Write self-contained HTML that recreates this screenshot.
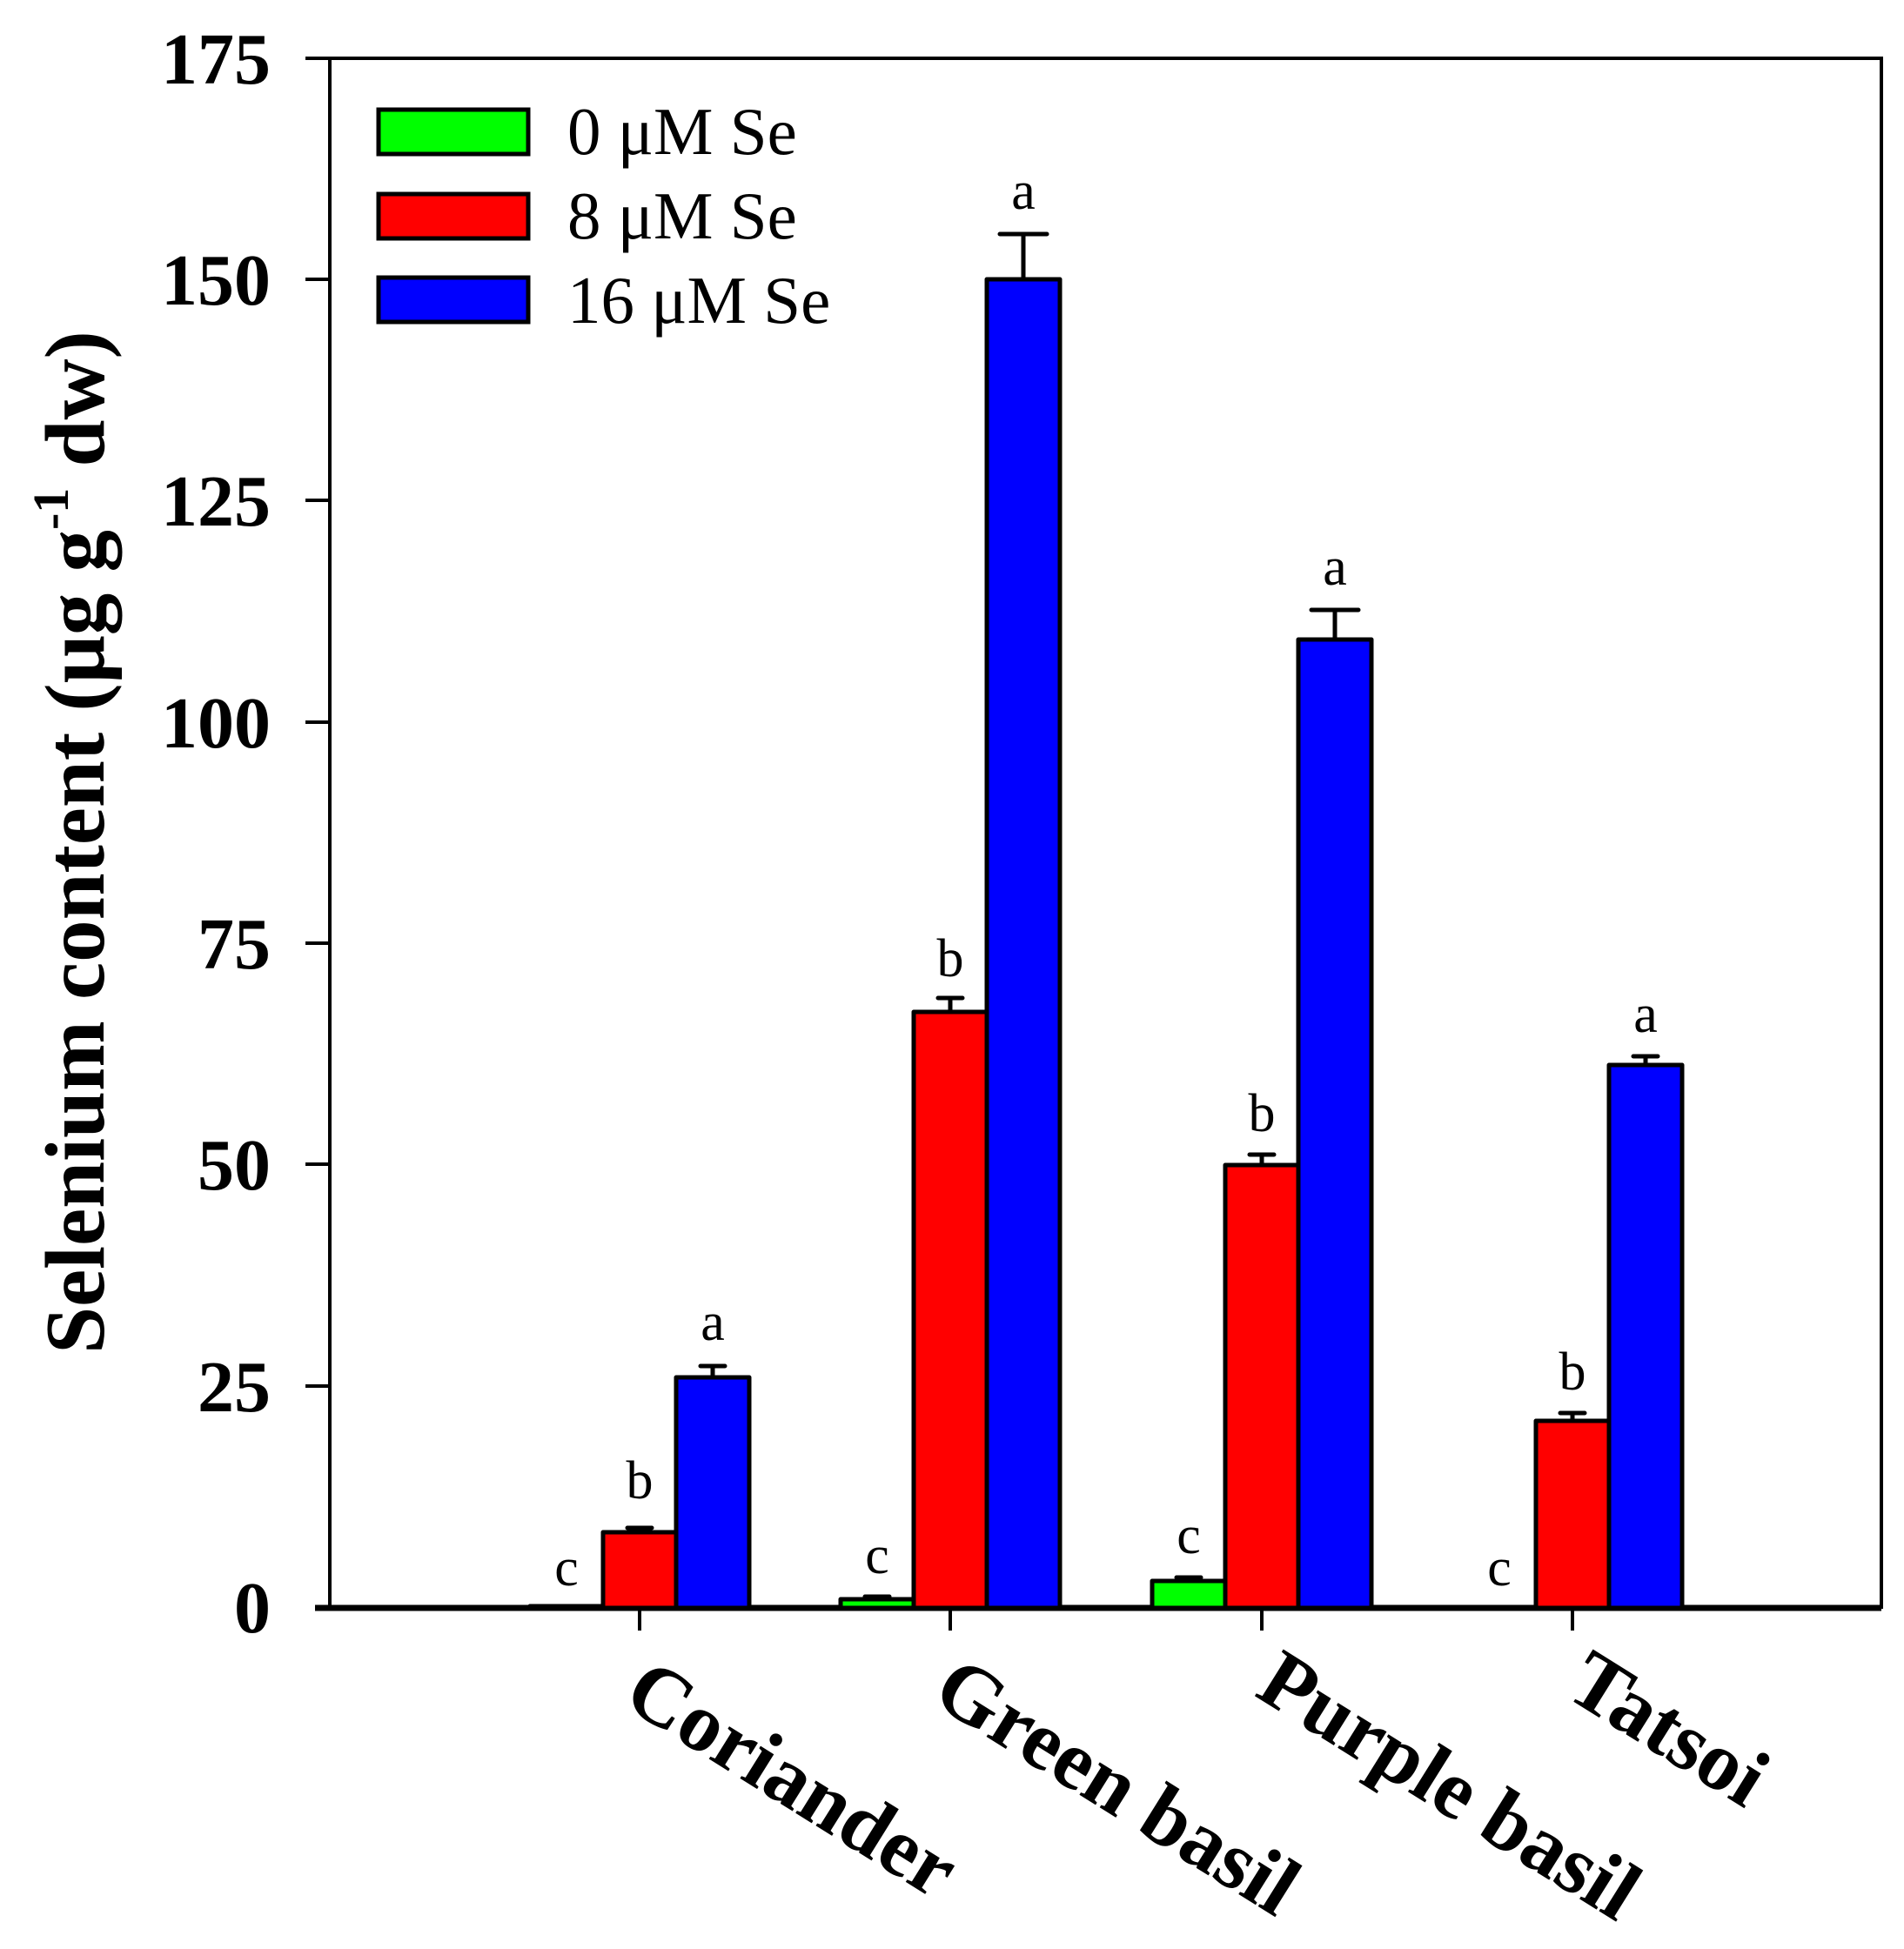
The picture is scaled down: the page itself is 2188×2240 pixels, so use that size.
<!DOCTYPE html>
<html><head><meta charset="utf-8"><style>
html,body{margin:0;padding:0;background:#fff;}
svg{display:block;}
text{font-family:"Liberation Serif","DejaVu Serif",serif;}
</style></head><body>
<svg width="2188" height="2240" viewBox="0 0 2188 2240" xmlns="http://www.w3.org/2000/svg">
<rect width="2188" height="2240" fill="#fff"/>
<rect x="379" y="67" width="1783" height="1780" fill="none" stroke="#000" stroke-width="4"/>
<line x1="362" y1="1848" x2="2162" y2="1848" stroke="#000" stroke-width="7"/>
<g stroke="#000" stroke-width="4">
<line x1="351" y1="67" x2="379" y2="67"/>
<line x1="351" y1="321" x2="379" y2="321"/>
<line x1="351" y1="575" x2="379" y2="575"/>
<line x1="351" y1="830" x2="379" y2="830"/>
<line x1="351" y1="1084" x2="379" y2="1084"/>
<line x1="351" y1="1338" x2="379" y2="1338"/>
<line x1="351" y1="1593" x2="379" y2="1593"/>
<line x1="735" y1="1848" x2="735" y2="1874"/>
<line x1="1092" y1="1848" x2="1092" y2="1874"/>
<line x1="1450" y1="1848" x2="1450" y2="1874"/>
<line x1="1807" y1="1848" x2="1807" y2="1874"/>
</g>
<g font-size="84" font-weight="bold" text-anchor="end">
<text x="311" y="96">175</text>
<text x="311" y="350">150</text>
<text x="311" y="604">125</text>
<text x="311" y="859">100</text>
<text x="311" y="1113">75</text>
<text x="311" y="1367">50</text>
<text x="311" y="1622">25</text>
<text x="311" y="1876">0</text>
</g>
<text transform="translate(119,968) rotate(-90)" font-size="97" font-weight="bold" text-anchor="middle">Selenium content (μg g<tspan font-size="58" dy="-41">-1</tspan><tspan dy="41"> dw)</tspan></text>
<g stroke="#000" stroke-width="5" stroke-linejoin="round">
<rect x="609" y="1846" width="84" height="2" fill="#00ff00"/>
<rect x="693" y="1761" width="84" height="87" fill="#ff0000"/>
<rect x="777" y="1583" width="84" height="265" fill="#0000ff"/>
<rect x="966" y="1838" width="84" height="10" fill="#00ff00"/>
<rect x="1050" y="1163" width="84" height="685" fill="#ff0000"/>
<rect x="1134" y="321" width="84" height="1527" fill="#0000ff"/>
<rect x="1324" y="1817" width="84" height="31" fill="#00ff00"/>
<rect x="1408" y="1339" width="84" height="509" fill="#ff0000"/>
<rect x="1492" y="735" width="84" height="1113" fill="#0000ff"/>
<rect x="1765" y="1633" width="84" height="215" fill="#ff0000"/>
<rect x="1849" y="1224" width="84" height="624" fill="#0000ff"/>
</g>
<g stroke="#000" stroke-width="5" stroke-linecap="round">
<path d="M735 1761V1756M721 1756H749"/>
<path d="M819 1583V1570M805 1570H833"/>
<path d="M1008 1838V1835M994 1835H1022"/>
<path d="M1092 1163V1147M1078 1147H1106"/>
<path d="M1176 321V269M1149 269H1203"/>
<path d="M1366 1817V1813M1352 1813H1380"/>
<path d="M1450 1339V1327M1436 1327H1464"/>
<path d="M1534 735V701M1507 701H1561"/>
<path d="M1807 1633V1624M1793 1624H1821"/>
<path d="M1891 1224V1214M1877 1214H1905"/>
</g>
<g font-size="62" text-anchor="middle">
<text x="651" y="1822">c</text>
<text x="735" y="1722">b</text>
<text x="819" y="1540">a</text>
<text x="1008" y="1808">c</text>
<text x="1092" y="1122">b</text>
<text x="1176" y="240">a</text>
<text x="1366" y="1785">c</text>
<text x="1450" y="1300">b</text>
<text x="1534" y="672">a</text>
<text x="1723" y="1822">c</text>
<text x="1807" y="1597">b</text>
<text x="1891" y="1186">a</text>
</g>
<g font-size="96" font-weight="bold">
<text transform="translate(713,1958) rotate(32)">Coriander</text>
<text transform="translate(1068,1955) rotate(32)">Green basil</text>
<text transform="translate(1440,1948) rotate(32)">Purple basil</text>
<text transform="translate(1796,1948) rotate(32)">Tatsoi</text>
</g>
<g stroke="#000" stroke-width="5">
<rect x="435" y="126" width="172" height="51" fill="#00ff00"/>
<rect x="435" y="223" width="172" height="51" fill="#ff0000"/>
<rect x="435" y="319" width="172" height="51" fill="#0000ff"/>
</g>
<g font-size="77">
<text x="652" y="177">0 μM Se</text>
<text x="652" y="274">8 μM Se</text>
<text x="652" y="371">16 μM Se</text>
</g>
</svg>
</body></html>
